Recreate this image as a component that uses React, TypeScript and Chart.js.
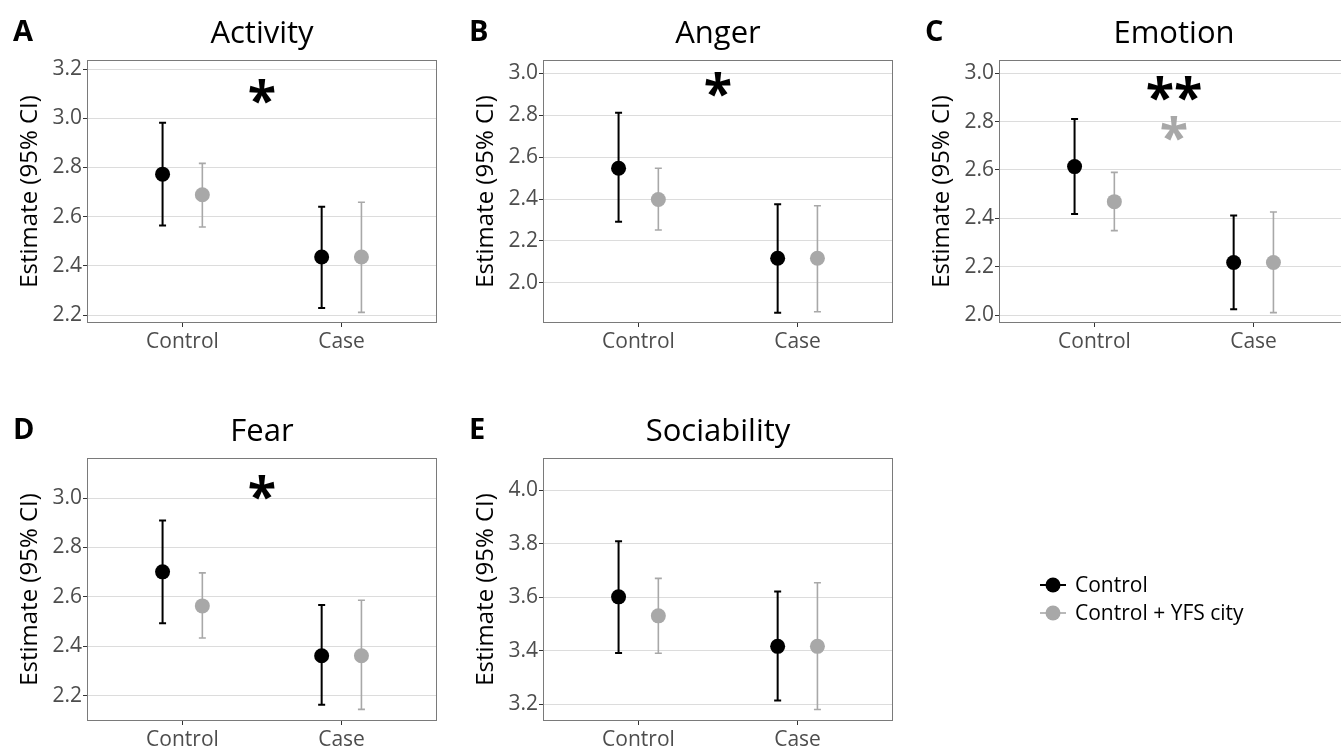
import React, { useEffect, useRef } from 'react';
import { Chart, registerables } from 'chart.js';

Chart.register(...registerables);

// ---------- data ----------
const categories = ['Control', 'Case'];
const seriesNames = ['Control', 'Control + YFS city'];
const seriesColors = ['#000000', '#a8a8a8'];

const panelTitles = ['Activity', 'Anger', 'Emotion', 'Fear', 'Sociability'];
const panelLetters = ['A', 'B', 'C', 'D', 'E'];

// rows per category: [estimate, lower 95% CI, upper 95% CI]
const activityControl = [[2.773, 2.564, 2.982], [2.436, 2.229, 2.641]];
const activityYfs = [[2.689, 2.558, 2.817], [2.436, 2.211, 2.659]];
const angerControl = [[2.547, 2.292, 2.812], [2.117, 1.857, 2.375]];
const angerYfs = [[2.398, 2.252, 2.547], [2.117, 1.862, 2.368]];
const emotionControl = [[2.614, 2.418, 2.811], [2.217, 2.024, 2.412]];
const emotionYfs = [[2.469, 2.349, 2.59], [2.217, 2.01, 2.426]];
const fearControl = [[2.701, 2.493, 2.909], [2.361, 2.163, 2.567]];
const fearYfs = [[2.563, 2.433, 2.697], [2.361, 2.144, 2.586]];
const sociabilityControl = [[3.602, 3.392, 3.81], [3.417, 3.215, 3.622]];
const sociabilityYfs = [[3.531, 3.391, 3.671], [3.417, 3.181, 3.655]];

// y axis limits
const activityRange = [2.168, 3.237];
const angerRange = [1.808, 3.064];
const emotionRange = [1.967, 3.055];
const fearRange = [2.097, 3.162];
const sociabilityRange = [3.138, 4.121];
const yTickStep = 0.2;

// significance marks (index -> series colour), level in data units
const activityStars = ['*'];
const activityStarLevels = [3.107];
const angerStars = ['*'];
const angerStarLevels = [2.949];
const emotionStars = ['**', '*'];
const emotionStarLevels = [2.938, 2.772];
const fearStars = ['*'];
const fearStarLevels = [3.041];
const sociabilityStars: string[] = [];
const sociabilityStarLevels: number[] = [];

const yAxisTitle = 'Estimate (95% CI)';

// ---------- layout / style ----------
const FONT = "'Open Sans', 'Noto Sans', sans-serif";
const PANEL_W = 456;
const PANEL_H = 370;
const PLOT_LEFT = 87;
const PLOT_RIGHT = 437;
const PLOT_TOP = 60;
const PLOT_BOTTOM = 323;
const X_AXIS_H = 40;
const DODGE = 0.125;
const CAP = 3.5;
const TICK_COLOR = '#4d4d4d';

const panels = [
  { control: activityControl, yfs: activityYfs, range: activityRange, stars: activityStars, starLevels: activityStarLevels, left: 0, top: 0, width: PANEL_W, legend: false },
  { control: angerControl, yfs: angerYfs, range: angerRange, stars: angerStars, starLevels: angerStarLevels, left: 456, top: 0, width: PANEL_W, legend: false },
  { control: emotionControl, yfs: emotionYfs, range: emotionRange, stars: emotionStars, starLevels: emotionStarLevels, left: 912, top: 0, width: PANEL_W, legend: false },
  { control: fearControl, yfs: fearYfs, range: fearRange, stars: fearStars, starLevels: fearStarLevels, left: 0, top: 398, width: PANEL_W, legend: false },
  { control: sociabilityControl, yfs: sociabilityYfs, range: sociabilityRange, stars: sociabilityStars, starLevels: sociabilityStarLevels, left: 456, top: 398, width: 885, legend: true },
];

const LEGEND_X = 597; // relative to panel E canvas
const LEGEND_Y = 187;
const LEGEND_ROW = 28;

const errorBarPlugin = {
  id: 'errorBars',
  beforeDatasetsDraw(chart: any) {
    const { ctx } = chart;
    const xs = chart.scales.x;
    const ys = chart.scales.y;
    chart.data.datasets.forEach((ds: any, s: number) => {
      ctx.save();
      ctx.strokeStyle = ds.borderColor;
      ctx.lineWidth = s === 0 ? 2 : 1.6;
      ds.data.forEach((d: any) => {
        const px = xs.getPixelForValue(d.x);
        const yl = ys.getPixelForValue(d.lo);
        const yh = ys.getPixelForValue(d.hi);
        ctx.beginPath();
        ctx.moveTo(px, yl);
        ctx.lineTo(px, yh);
        ctx.moveTo(px - CAP, yl);
        ctx.lineTo(px + CAP, yl);
        ctx.moveTo(px - CAP, yh);
        ctx.lineTo(px + CAP, yh);
        ctx.stroke();
      });
      ctx.restore();
    });
  },
};

const decorPlugin = {
  id: 'decor',
  afterDraw(chart: any, _args: any, opts: any) {
    const { ctx, chartArea } = chart;
    const xs = chart.scales.x;
    const ys = chart.scales.y;
    ctx.save();
    // panel border
    ctx.strokeStyle = '#7a7a7a';
    ctx.lineWidth = 1;
    ctx.strokeRect(
      Math.round(chartArea.left) + 0.5,
      Math.round(chartArea.top) + 0.5,
      Math.round(chartArea.right - chartArea.left) - 1,
      Math.round(chartArea.bottom - chartArea.top) - 1
    );
    // title
    ctx.fillStyle = '#000';
    ctx.textBaseline = 'alphabetic';
    ctx.textAlign = 'center';
    ctx.font = `31px ${FONT}`;
    ctx.fillText(opts.title, (chartArea.left + chartArea.right) / 2, 43);
    // panel letter
    ctx.textAlign = 'left';
    ctx.font = `bold 29px ${FONT}`;
    ctx.fillText(opts.letter, 13, 41);
    // significance stars
    ctx.font = `bold 52px ${FONT}`;
    ctx.textAlign = 'center';
    (opts.stars as string[]).forEach((st, k) => {
      const m = ctx.measureText(st);
      const cy = ys.getPixelForValue(opts.starLevels[k]);
      const base = cy + (m.actualBoundingBoxAscent - m.actualBoundingBoxDescent) / 2;
      ctx.fillStyle = seriesColors[k];
      ctx.fillText(st, xs.getPixelForValue(1.5), base);
    });
    // legend
    if (opts.legend) {
      chart.data.datasets.forEach((ds: any, s: number) => {
        const cy = LEGEND_Y + s * LEGEND_ROW;
        ctx.strokeStyle = ds.borderColor;
        ctx.lineWidth = s === 0 ? 2 : 1.6;
        ctx.beginPath();
        ctx.moveTo(LEGEND_X - 13, cy);
        ctx.lineTo(LEGEND_X + 13, cy);
        ctx.stroke();
        ctx.fillStyle = ds.backgroundColor;
        ctx.beginPath();
        ctx.arc(LEGEND_X, cy, 7.5, 0, Math.PI * 2);
        ctx.fill();
        ctx.fillStyle = '#000';
        ctx.textAlign = 'left';
        ctx.textBaseline = 'middle';
        ctx.font = `21px ${FONT}`;
        ctx.fillText(ds.label, LEGEND_X + 22, cy + 1);
      });
    }
    ctx.restore();
  },
};

function Panel({ idx }: { idx: number }) {
  const ref = useRef<HTMLCanvasElement | null>(null);
  const p = panels[idx];
  useEffect(() => {
    if (!ref.current) return;
    const datasets = [p.control, p.yfs].map((rows, s) => ({
      label: seriesNames[s],
      data: rows.map((r, i) => ({ x: i + 1 + (s === 0 ? -DODGE : DODGE), y: r[0], lo: r[1], hi: r[2] })),
      backgroundColor: seriesColors[s],
      borderColor: seriesColors[s],
      pointBackgroundColor: seriesColors[s],
      pointRadius: 7.5,
      pointHoverRadius: 7.5,
      pointBorderWidth: 0,
      showLine: false,
    }));
    const chart = new Chart(ref.current, {
      type: 'scatter',
      data: { datasets },
      plugins: [errorBarPlugin, decorPlugin],
      options: {
        responsive: false,
        animation: false,
        events: [],
        layout: {
          padding: {
            left: 16,
            right: p.width - PLOT_RIGHT,
            top: PLOT_TOP,
            bottom: PANEL_H - PLOT_BOTTOM - X_AXIS_H,
          },
        },
        plugins: {
          legend: { display: false },
          tooltip: { enabled: false },
          title: { display: false },
          decor: {
            title: panelTitles[idx],
            letter: panelLetters[idx],
            stars: p.stars,
            starLevels: p.starLevels,
            legend: p.legend,
          },
        } as any,
        scales: {
          x: {
            type: 'linear',
            min: 0.4,
            max: 2.6,
            afterBuildTicks: (s: any) => {
              s.ticks = categories.map((_, i) => ({ value: i + 1 }));
            },
            afterFit: (s: any) => {
              s.height = X_AXIS_H;
            },
            grid: { drawOnChartArea: false, drawTicks: true, tickLength: 4, tickColor: '#333', tickWidth: 1 },
            border: { display: false },
            ticks: {
              autoSkip: false,
              maxRotation: 0,
              padding: 2,
              color: TICK_COLOR,
              font: { size: 21, family: FONT },
              callback: (v: any) => categories[Math.round(Number(v)) - 1] ?? '',
            },
          },
          y: {
            type: 'linear',
            min: p.range[0],
            max: p.range[1],
            afterFit: (s: any) => {
              s.width = PLOT_LEFT - 16;
            },
            grid: { color: '#dcdcdc', lineWidth: 1, tickLength: 4, tickColor: '#333', tickWidth: 1 },
            border: { display: false },
            ticks: {
              stepSize: yTickStep,
              includeBounds: false,
              padding: 1,
              color: TICK_COLOR,
              font: { size: 21, family: FONT },
              callback: (v: any) => Number(v).toFixed(1),
            },
            title: {
              display: true,
              text: yAxisTitle,
              color: '#000',
              font: { size: 24, family: FONT },
              padding: { top: 0, bottom: 0 },
            },
          },
        },
      } as any,
    });
    return () => chart.destroy();
  }, [idx]);
  return (
    <canvas
      ref={ref}
      width={p.width}
      height={PANEL_H}
      style={{ position: 'absolute', left: p.left, top: p.top, width: p.width, height: PANEL_H }}
    />
  );
}

export default function App() {
  return (
    <div
      style={{
        position: 'absolute',
        left: 0,
        top: 0,
        width: 1341,
        height: 748,
        overflow: 'hidden',
        background: '#fff',
      }}
    >
      {panels.map((_, i) => (
        <Panel key={i} idx={i} />
      ))}
    </div>
  );
}
